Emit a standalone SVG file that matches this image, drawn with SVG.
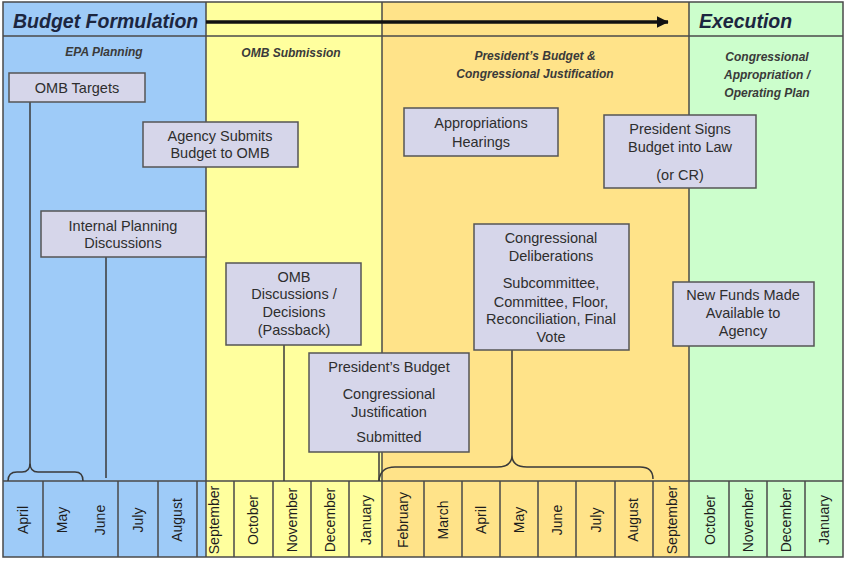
<svg xmlns="http://www.w3.org/2000/svg" width="848" height="575" viewBox="0 0 848 575">
<style>
.box{fill:#d6d6ea;stroke:#555;stroke-width:1.5}
.bt{font-family:"Liberation Sans",Arial,sans-serif;font-size:14.5px;fill:#2e2e2e;text-anchor:middle}
.mo{font-family:"Liberation Sans",Arial,sans-serif;font-size:14px;fill:#1e1e1e;text-anchor:middle}
.sub{font-family:"Liberation Sans",Arial,sans-serif;font-size:12px;font-weight:bold;font-style:italic;fill:#3a3a3a;text-anchor:middle}
.hd{font-family:"Liberation Sans",Arial,sans-serif;font-size:19.5px;font-weight:bold;font-style:italic;fill:#1c2640}
.grid{stroke:#4a4a4a;stroke-width:1.5;fill:none}
.con{stroke:#3a3a3a;stroke-width:1.5;fill:none}
</style>
<defs>
<marker id="ah" markerWidth="4" markerHeight="4" refX="3.2" refY="2" orient="auto" markerUnits="strokeWidth">
<path d="M0,0.3 L3.4,2 L0,3.7 Z" fill="#111"/>
</marker>
</defs>
<rect width="848" height="575" fill="#fff"/>
<g id="columns">
<rect x="3" y="2" width="203" height="555" fill="#9ecbf8"/>
<rect x="206" y="2" width="176" height="555" fill="#ffff9e"/>
<rect x="382" y="2" width="307" height="555" fill="#ffe389"/>
<rect x="689" y="2" width="154" height="555" fill="#ccfecc"/>
</g>
<g id="grid">
<rect class="grid" x="3" y="2" width="840" height="555"/>
<line class="grid" x1="3" y1="36" x2="843" y2="36"/>
<line class="grid" x1="3" y1="481" x2="843" y2="481"/>
<line class="grid" x1="206" y1="2" x2="206" y2="557"/>
<line class="grid" x1="382" y1="2" x2="382" y2="481"/>
<line class="grid" x1="689" y1="2" x2="689" y2="557"/>
<path class="grid" d="M43 481V557M118 481V557M158 481V557M197 481V557M234 481V557M273 481V557M311 481V557M349 481V557M382 481V557M424 481V557M462 481V557M500 481V557M538 481V557M576 481V557M615 481V557M653 481V557M729 481V557M767 481V557M805 481V557"/>
</g>
<g id="header">
<text class="hd" x="13" y="28">Budget Formulation</text>
<text class="hd" x="699" y="28">Execution</text>
<line x1="206" y1="22" x2="668" y2="22" stroke="#111" stroke-width="3.5" marker-end="url(#ah)"/>
<text class="sub" x="104" y="56">EPA Planning</text>
<text class="sub" x="291" y="57">OMB Submission</text>
<text class="sub" x="535" y="60">President’s Budget &amp;</text>
<text class="sub" x="535" y="78">Congressional Justification</text>
<text class="sub" x="767" y="61">Congressional</text>
<text class="sub" x="767" y="79">Appropriation /</text>
<text class="sub" x="767" y="97">Operating Plan</text>
</g>
<g id="months">
<text class="mo" transform="translate(28,520) rotate(-90)">April</text>
<text class="mo" transform="translate(67,520) rotate(-90)">May</text>
<text class="mo" transform="translate(105,520) rotate(-90)">June</text>
<text class="mo" transform="translate(142.5,520) rotate(-90)">July</text>
<text class="mo" transform="translate(181.5,520) rotate(-90)">August</text>
<text class="mo" transform="translate(219,520) rotate(-90)">September</text>
<text class="mo" transform="translate(258,520) rotate(-90)">October</text>
<text class="mo" transform="translate(297,520) rotate(-90)">November</text>
<text class="mo" transform="translate(335,520) rotate(-90)">December</text>
<text class="mo" transform="translate(371,520) rotate(-90)">January</text>
<text class="mo" transform="translate(407.5,520) rotate(-90)">February</text>
<text class="mo" transform="translate(447.5,520) rotate(-90)">March</text>
<text class="mo" transform="translate(486,520) rotate(-90)">April</text>
<text class="mo" transform="translate(524,520) rotate(-90)">May</text>
<text class="mo" transform="translate(562,520) rotate(-90)">June</text>
<text class="mo" transform="translate(601,520) rotate(-90)">July</text>
<text class="mo" transform="translate(638,520) rotate(-90)">August</text>
<text class="mo" transform="translate(676.5,520) rotate(-90)">September</text>
<text class="mo" transform="translate(714.5,520) rotate(-90)">October</text>
<text class="mo" transform="translate(752.5,520) rotate(-90)">November</text>
<text class="mo" transform="translate(791,520) rotate(-90)">December</text>
<text class="mo" transform="translate(829,520) rotate(-90)">January</text>
</g>
<g id="connectors">
<line class="con" x1="30" y1="102" x2="30" y2="463" stroke="#2b4b7a"/>
<path class="con" stroke="#2b4b7a" d="M8 481 Q8 472 17 472 L22 472 Q30 472 30 463 Q30 472 38 472 L75 472 Q83 472 83 481"/>
<line class="con" x1="106" y1="257" x2="106" y2="478" stroke="#2b4b7a"/>
<line class="con" x1="284" y1="345" x2="284" y2="481"/>
<line class="con" x1="379" y1="452" x2="379" y2="481" stroke="#5a5020"/>
<path class="con" stroke="#5a5020" d="M379 481 Q380 467 395 467 L497 467 Q512 467 512 455 Q512 467 527 467 L640 467 Q653 467 653 479"/>
<line class="con" x1="512" y1="350" x2="512" y2="455" stroke="#5a5020"/>
</g>
<g id="omb-targets">
<rect class="box" x="9" y="73" width="136" height="29"/>
<text class="bt" x="77" y="93">OMB Targets</text>
</g>
<g id="agency-submits">
<rect class="box" x="143" y="122" width="155" height="45"/>
<text class="bt" x="220" y="141">Agency Submits</text>
<text class="bt" x="220" y="158">Budget to OMB</text>
</g>
<g id="internal-planning">
<rect class="box" x="41" y="211" width="165" height="46"/>
<text class="bt" x="123" y="231">Internal Planning</text>
<text class="bt" x="123" y="248">Discussions</text>
</g>
<g id="omb-discussions">
<rect class="box" x="226" y="263" width="135" height="82"/>
<text class="bt" x="294" y="282">OMB</text>
<text class="bt" x="294" y="299">Discussions /</text>
<text class="bt" x="294" y="317">Decisions</text>
<text class="bt" x="294" y="335">(Passback)</text>
</g>
<g id="presidents-budget">
<rect class="box" x="309" y="353" width="160" height="99"/>
<text class="bt" x="389" y="372">President’s Budget</text>
<text class="bt" x="389" y="399">Congressional</text>
<text class="bt" x="389" y="417">Justification</text>
<text class="bt" x="389" y="442">Submitted</text>
</g>
<g id="appropriations-hearings">
<rect class="box" x="404" y="108" width="154" height="48"/>
<text class="bt" x="481" y="128">Appropriations</text>
<text class="bt" x="481" y="147">Hearings</text>
</g>
<g id="congressional-deliberations">
<rect class="box" x="474" y="224" width="155" height="126"/>
<text class="bt" x="551" y="243">Congressional</text>
<text class="bt" x="551" y="261">Deliberations</text>
<text class="bt" x="551" y="288">Subcommittee,</text>
<text class="bt" x="551" y="307">Committee, Floor,</text>
<text class="bt" x="551" y="324">Reconciliation, Final</text>
<text class="bt" x="551" y="342">Vote</text>
</g>
<g id="president-signs">
<rect class="box" x="604" y="115" width="152" height="73"/>
<text class="bt" x="680" y="134">President Signs</text>
<text class="bt" x="680" y="152">Budget into Law</text>
<text class="bt" x="680" y="180">(or CR)</text>
</g>
<g id="new-funds">
<rect class="box" x="673" y="282" width="141" height="64"/>
<text class="bt" x="743" y="300">New Funds Made</text>
<text class="bt" x="743" y="318">Available to</text>
<text class="bt" x="743" y="336">Agency</text>
</g>
</svg>
